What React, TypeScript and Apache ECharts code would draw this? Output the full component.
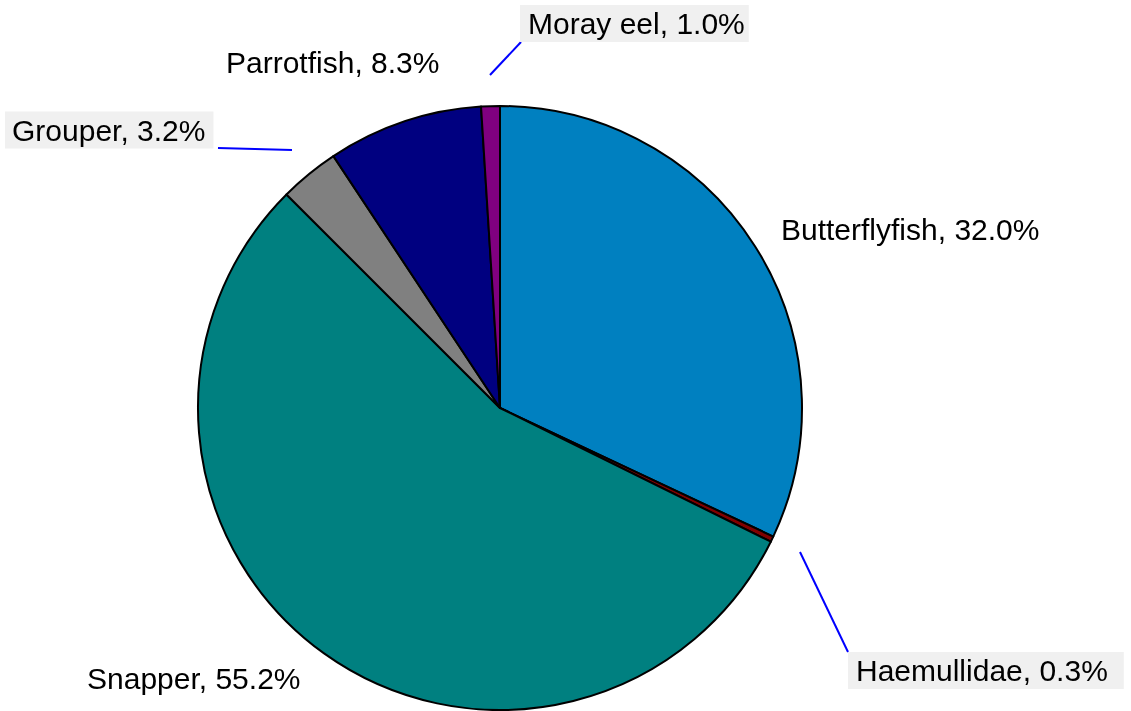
import React, { useEffect, useRef } from "react";
import * as echarts from "echarts";

const names = ["Butterflyfish", "Haemullidae", "Snapper", "Grouper", "Parrotfish", "Moray eel"];
const values = [32.0, 0.3, 55.2, 3.2, 8.3, 1.0];
const colors = ["#0080c0", "#800000", "#008080", "#808080", "#000080", "#800080"];

// label layout (pixels): box left x, center y, optional leader line, boxed or not
const labelPos: Record<string, { x: number; y: number; line?: number[][]; boxed: boolean; pad?: number[] }> = {
  Butterflyfish: { x: 781, y: 229, boxed: false },
  Haemullidae: { x: 848, y: 670.5, boxed: true, pad: [3, 16, 3, 8], line: [[800, 552], [824, 602], [848, 652]] },
  Snapper: { x: 87, y: 678, boxed: false },
  Grouper: { x: 5, y: 130, boxed: true, pad: [3, 8, 3, 7], line: [[292, 150], [255, 149], [218, 148]] },
  Parrotfish: { x: 226, y: 62, boxed: false },
  "Moray eel": { x: 520, y: 23.5, boxed: true, pad: [3, 4, 3, 8], line: [[490, 75], [505.5, 58.5], [521, 42]] },
};

export default function App() {
  const ref = useRef<HTMLDivElement>(null);
  useEffect(() => {
    if (!ref.current) return;
    const chart = echarts.init(ref.current, undefined, { renderer: "svg" });
    const data = names.map((n, i) => {
      const p = labelPos[n];
      return {
        name: n,
        value: values[i],
        itemStyle: { color: colors[i] },
        label: p.boxed
          ? { backgroundColor: "#f0f0f0", padding: p.pad }
          : { padding: 0 },
        labelLine: { show: !!p.line },
      };
    });
    chart.setOption({
      animation: false,
      series: [
        {
          type: "pie",
          center: [500, 408],
          radius: [0, 302],
          startAngle: 90,
          clockwise: true,
          avoidLabelOverlap: false,
          data,
          itemStyle: { borderColor: "#000", borderWidth: 2 },
          emphasis: { disabled: true },
          label: {
            show: true,
            position: "outside",
            formatter: (p: any) => `${p.name}, ${p.value.toFixed(1)}%`,
            color: "#000",
            fontFamily: "Liberation Sans, Arial, sans-serif",
            fontSize: 30,
            lineHeight: 31,
          },
          labelLine: { show: true, smooth: false, lineStyle: { color: "#0000ff", width: 2 } },
          labelLayout: (params: any) => {
            const n = names[params.dataIndex];
            const p = labelPos[n];
            const res: any = { x: p.x, y: p.y, align: "left", verticalAlign: "middle" };
            if (p.line) res.labelLinePoints = p.line;
            return res;
          },
        },
      ],
    });
    return () => chart.dispose();
  }, []);
  return (
    <div
      ref={ref}
      style={{ position: "fixed", left: 0, top: 0, width: 1131, height: 711 }}
    />
  );
}
